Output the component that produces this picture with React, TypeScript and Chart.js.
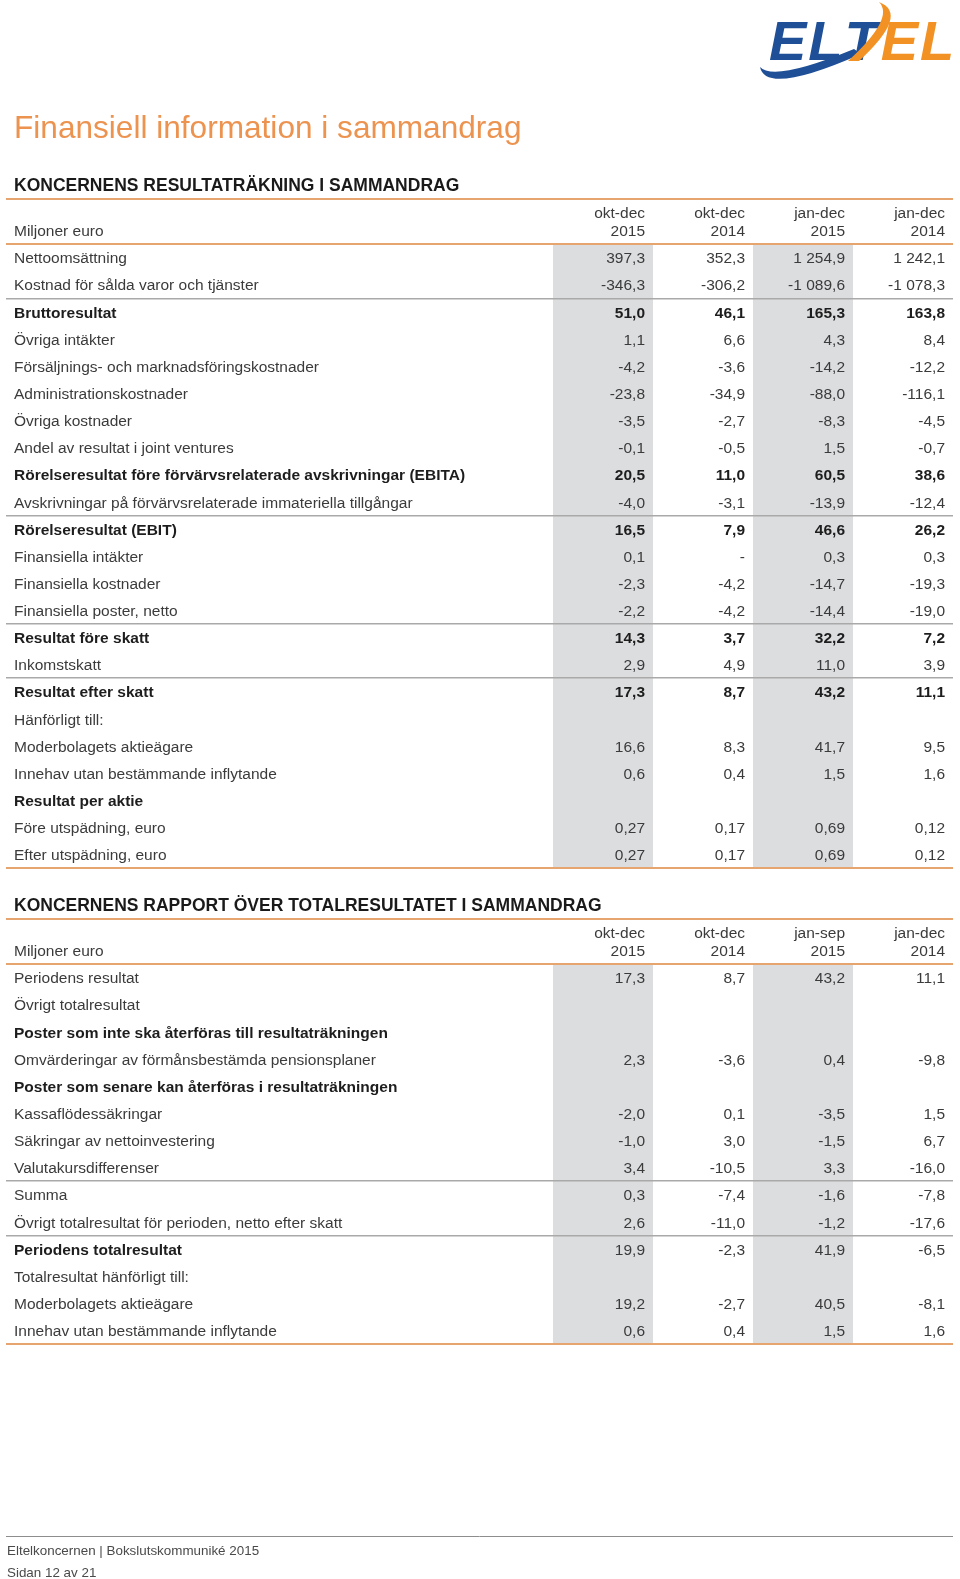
import React, { useEffect, useRef } from 'react';
import { Chart, registerables } from 'chart.js';

Chart.register(...registerables);

const FONT = '"Liberation Sans", Arial, Helvetica, sans-serif';
const ORANGE_LINE = '#e6a46e';
const GREY_LINE = '#a9a9a9';
const BAND = '#dcdddf';
const TEXT = '#3b3b3b';
const TEXT_BOLD = '#1d1d1d';
const TITLE_ORANGE = '#ec9350';
const LOGO_BLUE = '#1f4f96';
const LOGO_ORANGE = '#f39224';
const TEXT_SHIFT = 1.5;

// ---------- Page text ----------
const pageTitle = 'Finansiell information i sammandrag';
const footerLine1 = 'Eltelkoncernen | Bokslutskommuniké 2015';
const footerLine2 = 'Sidan 12 av 21';
const unitLabel = 'Miljoner euro';

// ---------- Table 1: income statement ----------
const incomeTitle = 'KONCERNENS RESULTATRÄKNING I SAMMANDRAG';
const incomeMonths = ['okt-dec', 'okt-dec', 'jan-dec', 'jan-dec'];
const incomeYears = ['2015', '2014', '2015', '2014'];
const incomeRows = [
  'Nettoomsättning',
  'Kostnad för sålda varor och tjänster',
  'Bruttoresultat',
  'Övriga intäkter',
  'Försäljnings- och marknadsföringskostnader',
  'Administrationskostnader',
  'Övriga kostnader',
  'Andel av resultat i joint ventures',
  'Rörelseresultat före förvärvsrelaterade avskrivningar (EBITA)',
  'Avskrivningar på förvärvsrelaterade immateriella tillgångar',
  'Rörelseresultat (EBIT)',
  'Finansiella intäkter',
  'Finansiella kostnader',
  'Finansiella poster, netto',
  'Resultat före skatt',
  'Inkomstskatt',
  'Resultat efter skatt',
  'Hänförligt till:',
  'Moderbolagets aktieägare',
  'Innehav utan bestämmande inflytande',
  'Resultat per aktie',
  'Före utspädning, euro',
  'Efter utspädning, euro',
];
const incomeOktDec2015 = [397.3, -346.3, 51.0, 1.1, -4.2, -23.8, -3.5, -0.1, 20.5, -4.0, 16.5, 0.1, -2.3, -2.2, 14.3, 2.9, 17.3, null, 16.6, 0.6, null, 0.27, 0.27];
const incomeOktDec2014 = [352.3, -306.2, 46.1, 6.6, -3.6, -34.9, -2.7, -0.5, 11.0, -3.1, 7.9, 0, -4.2, -4.2, 3.7, 4.9, 8.7, null, 8.3, 0.4, null, 0.17, 0.17];
const incomeJanDec2015 = [1254.9, -1089.6, 165.3, 4.3, -14.2, -88.0, -8.3, 1.5, 60.5, -13.9, 46.6, 0.3, -14.7, -14.4, 32.2, 11.0, 43.2, null, 41.7, 1.5, null, 0.69, 0.69];
const incomeJanDec2014 = [1242.1, -1078.3, 163.8, 8.4, -12.2, -116.1, -4.5, -0.7, 38.6, -12.4, 26.2, 0.3, -19.3, -19.0, 7.2, 3.9, 11.1, null, 9.5, 1.6, null, 0.12, 0.12];
const incomeBoldRows = [2, 8, 10, 14, 16, 20];
const incomeBoldValueRows = [2, 8, 10, 14, 16];
const incomeSeparators = [2, 10, 14, 16];
const incomeTwoDecimalRows = [21, 22];

// ---------- Table 2: comprehensive income ----------
const compTitle = 'KONCERNENS RAPPORT ÖVER TOTALRESULTATET I SAMMANDRAG';
const compMonths = ['okt-dec', 'okt-dec', 'jan-sep', 'jan-dec'];
const compYears = ['2015', '2014', '2015', '2014'];
const compRows = [
  'Periodens resultat',
  'Övrigt totalresultat',
  'Poster som inte ska återföras till resultaträkningen',
  'Omvärderingar av förmånsbestämda pensionsplaner',
  'Poster som senare kan återföras i resultaträkningen',
  'Kassaflödessäkringar',
  'Säkringar av nettoinvestering',
  'Valutakursdifferenser',
  'Summa',
  'Övrigt totalresultat för perioden, netto efter skatt',
  'Periodens totalresultat',
  'Totalresultat hänförligt till:',
  'Moderbolagets aktieägare',
  'Innehav utan bestämmande inflytande',
];
const compOktDec2015 = [17.3, null, null, 2.3, null, -2.0, -1.0, 3.4, 0.3, 2.6, 19.9, null, 19.2, 0.6];
const compOktDec2014 = [8.7, null, null, -3.6, null, 0.1, 3.0, -10.5, -7.4, -11.0, -2.3, null, -2.7, 0.4];
const compJanSep2015 = [43.2, null, null, 0.4, null, -3.5, -1.5, 3.3, -1.6, -1.2, 41.9, null, 40.5, 1.5];
const compJanDec2014 = [11.1, null, null, -9.8, null, 1.5, 6.7, -16.0, -7.8, -17.6, -6.5, null, -8.1, 1.6];
const compBoldRows = [2, 4, 10];
const compBoldValueRows: number[] = [];
const compSeparators = [8, 10];
const compTwoDecimalRows: number[] = [];

const shadedColumns = [true, false, true, false];

function fmt(v: number | null, d: number): string {
  if (v === null || v === undefined) return '';
  if (v === 0) return '-';
  const s = Math.abs(v).toFixed(d);
  const [i, f] = s.split('.');
  const ii = i.replace(/\B(?=(\d{3})+(?!\d))/g, ' ');
  return (v < 0 ? '-' : '') + ii + ',' + f;
}

function drawLogo(ctx: CanvasRenderingContext2D) {
  ctx.save();
  // blue swoosh
  ctx.fillStyle = LOGO_BLUE;
  ctx.beginPath();
  ctx.moveTo(760, 67);
  ctx.quadraticCurveTo(766, 96, 861, 54);
  ctx.lineTo(854, 49);
  ctx.quadraticCurveTo(774, 82, 760, 67);
  ctx.fill();
  ctx.font = `italic bold 56px ${FONT}`;
  ctx.textBaseline = 'alphabetic';
  ctx.textAlign = 'left';
  let x = 769;
  const letters = [['E', LOGO_BLUE], ['L', LOGO_BLUE], ['T', LOGO_BLUE], ['E', LOGO_ORANGE], ['L', LOGO_ORANGE]];
  letters.forEach(([ch, col]) => {
    ctx.fillStyle = col;
    ctx.fillText(ch, x, 60);
    x += ctx.measureText(ch).width + 2;
  });
  // orange swoosh through the T
  ctx.fillStyle = LOGO_ORANGE;
  ctx.beginPath();
  ctx.moveTo(879, 2);
  ctx.quadraticCurveTo(910, 14, 859, 61);
  ctx.lineTo(848, 61);
  ctx.quadraticCurveTo(895, 18, 879, 2);
  ctx.fill();
  ctx.restore();
}

function drawTitle(ctx: CanvasRenderingContext2D) {
  ctx.save();
  ctx.font = `31.6px ${FONT}`;
  ctx.fillStyle = TITLE_ORANGE;
  ctx.textAlign = 'left';
  ctx.textBaseline = 'alphabetic';
  ctx.fillText(pageTitle, 14, 138);
  ctx.restore();
}

function drawFooter(ctx: CanvasRenderingContext2D, offsetY: number) {
  ctx.save();
  ctx.strokeStyle = '#8d8d8d';
  ctx.lineWidth = 1;
  ctx.beginPath();
  ctx.moveTo(6, 1536.5 - offsetY);
  ctx.lineTo(953, 1536.5 - offsetY);
  ctx.stroke();
  ctx.font = `13.4px ${FONT}`;
  ctx.fillStyle = '#4a4a4a';
  ctx.textAlign = 'left';
  ctx.textBaseline = 'alphabetic';
  ctx.fillText(footerLine1, 7, 1555 - offsetY);
  ctx.fillText(footerLine2, 7, 1576.5 - offsetY);
  ctx.restore();
}

type Spec = {
  title: string;
  months: string[];
  years: string[];
  rows: string[];
  series: (number | null)[][];
  boldRows: number[];
  boldValueRows: number[];
  separators: number[];
  twoDecimalRows: number[];
  top: number;
  height: number;
  padTop: number;
  padBottom: number;
  decorate: (ctx: CanvasRenderingContext2D, top: number) => void;
};

function TableChart({ spec }: { spec: Spec }) {
  const ref = useRef<HTMLCanvasElement>(null);
  useEffect(() => {
    const canvas = ref.current;
    if (!canvas) return;
    const n = spec.rows.length;
    const lineColor = (idx: number | undefined) => {
      if (idx === undefined || idx === 0 || idx === n) return ORANGE_LINE;
      if (spec.separators.includes(idx)) return GREY_LINE;
      return 'rgba(0,0,0,0)';
    };
    const lineWidth = (idx: number | undefined) => {
      if (idx === undefined || idx === 0 || idx === n) return 2;
      if (spec.separators.includes(idx)) return 1.5;
      return 0;
    };

    const shadePlugin = {
      id: 'columnShade',
      beforeDraw(chart: any) {
        const { ctx, chartArea } = chart;
        const x = chart.scales.x;
        const half = (x.getPixelForValue(1) - x.getPixelForValue(0)) / 2;
        ctx.save();
        ctx.fillStyle = BAND;
        shadedColumns.forEach((s, i) => {
          if (!s) return;
          const c = x.getPixelForValue(i);
          ctx.fillRect(c - half, chartArea.top, half * 2, chartArea.bottom - chartArea.top);
        });
        ctx.restore();
      },
    };

    const textPlugin = {
      id: 'tableText',
      afterDraw(chart: any) {
        const { ctx, chartArea } = chart;
        const x = chart.scales.x;
        const y = chart.scales.y;
        const half = (x.getPixelForValue(1) - x.getPixelForValue(0)) / 2;
        const top = chartArea.top;
        ctx.save();
        // section heading
        ctx.textAlign = 'left';
        ctx.textBaseline = 'alphabetic';
        ctx.font = `bold 17.5px ${FONT}`;
        ctx.fillStyle = '#1a1a1a';
        ctx.fillText(spec.title, 14, top - 53);
        ctx.strokeStyle = ORANGE_LINE;
        ctx.lineWidth = 2;
        ctx.beginPath();
        ctx.moveTo(6, top - 45);
        ctx.lineTo(chartArea.right, top - 45);
        ctx.stroke();
        // header
        ctx.font = `15.5px ${FONT}`;
        ctx.fillStyle = TEXT;
        ctx.fillText(unitLabel, 14, top - 8);
        ctx.textAlign = 'right';
        spec.months.forEach((m, c) => {
          const xr = x.getPixelForValue(c) + half - 8;
          ctx.fillText(m, xr, top - 26);
          ctx.fillText(spec.years[c], xr, top - 8);
        });
        // values
        ctx.textBaseline = 'middle';
        spec.series.forEach((col, c) => {
          const xr = x.getPixelForValue(c) + half - 8;
          col.forEach((v, r) => {
            if (v === null) return;
            const bold = spec.boldValueRows.includes(r);
            ctx.font = `${bold ? 'bold ' : ''}15.5px ${FONT}`;
            ctx.fillStyle = bold ? TEXT_BOLD : TEXT;
            const d = spec.twoDecimalRows.includes(r) ? 2 : 1;
            ctx.fillText(fmt(v, d), xr, y.getPixelForValue(r) + TEXT_SHIFT);
          });
        });
        ctx.restore();
        spec.decorate(ctx, spec.top);
      },
    };

    const chart = new Chart(canvas, {
      type: 'bar',
      data: { labels: spec.months.map((m, i) => m + ' ' + spec.years[i]), datasets: [] },
      options: {
        responsive: false,
        animation: false,
        events: [],
        layout: { padding: { top: spec.padTop, bottom: spec.padBottom, left: 14, right: 7 } },
        plugins: { legend: { display: false }, tooltip: { enabled: false } },
        scales: {
          x: { type: 'category', display: false, offset: true, grid: { display: false } },
          y: {
            type: 'category',
            labels: spec.rows,
            position: 'left',
            offset: true,
            afterFit: (s: any) => { s.width = 539; },
            border: { display: false },
            grid: {
              offset: true,
              drawOnChartArea: true,
              drawTicks: true,
              tickLength: 547,
              color: (c: any) => lineColor(c.index),
              tickColor: (c: any) => lineColor(c.index),
              lineWidth: (c: any) => lineWidth(c.index),
              tickWidth: (c: any) => lineWidth(c.index),
            },
            ticks: {
              autoSkip: false,
              crossAlign: 'far',
              padding: 0,
              labelOffset: TEXT_SHIFT,
              color: (c: any) => (spec.boldRows.includes(c.index) ? TEXT_BOLD : TEXT),
              font: (c: any) => ({ family: FONT, size: 15.5, weight: spec.boldRows.includes(c.index) ? 'bold' : 'normal' }),
            },
          },
        },
      } as any,
      plugins: [shadePlugin, textPlugin],
    });
    return () => chart.destroy();
  }, [spec]);
  return (
    <canvas
      ref={ref}
      width={960}
      height={spec.height}
      style={{ position: 'absolute', left: 0, top: spec.top, width: 960, height: spec.height }}
    />
  );
}

const incomeSpec: Spec = {
  title: incomeTitle,
  months: incomeMonths,
  years: incomeYears,
  rows: incomeRows,
  series: [incomeOktDec2015, incomeOktDec2014, incomeJanDec2015, incomeJanDec2014],
  boldRows: incomeBoldRows,
  boldValueRows: incomeBoldValueRows,
  separators: incomeSeparators,
  twoDecimalRows: incomeTwoDecimalRows,
  top: 0,
  height: 880,
  padTop: 244,
  padBottom: 12,
  decorate: (ctx) => { drawLogo(ctx); drawTitle(ctx); },
};

const compSpec: Spec = {
  title: compTitle,
  months: compMonths,
  years: compYears,
  rows: compRows,
  series: [compOktDec2015, compOktDec2014, compJanSep2015, compJanDec2014],
  boldRows: compBoldRows,
  boldValueRows: compBoldValueRows,
  separators: compSeparators,
  twoDecimalRows: compTwoDecimalRows,
  top: 880,
  height: 699,
  padTop: 84,
  padBottom: 235,
  decorate: (ctx, top) => { drawFooter(ctx, top); },
};

export default function App() {
  return (
    <div style={{ position: 'absolute', left: 0, top: 0, width: 960, height: 1579, background: '#fff', overflow: 'hidden' }}>
      <TableChart spec={incomeSpec} />
      <TableChart spec={compSpec} />
    </div>
  );
}
